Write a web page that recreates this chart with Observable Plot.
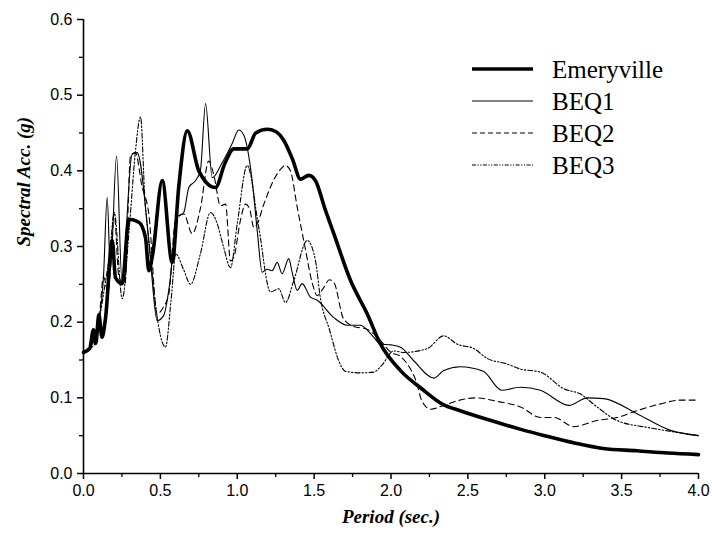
<!DOCTYPE html>
<html>
<head>
<meta charset="utf-8">
<script src="https://cdn.jsdelivr.net/npm/d3@7"></script>
<script src="https://cdn.jsdelivr.net/npm/@observablehq/plot@0.6"></script>
<style>
  html, body { margin: 0; padding: 0; background: white; }
</style>
</head>
<body>
<div id="chart"></div>
<script>
// ---- Data ----
const seriesNames = ["Emeryville", "BEQ1", "BEQ2", "BEQ3"];

const emeryX = [0, 0.04, 0.065, 0.08, 0.1, 0.12, 0.143, 0.187, 0.208, 0.252, 0.295, 0.36, 0.403, 0.425, 0.45, 0.512, 0.577, 0.62, 0.675, 0.75, 0.858, 0.92, 0.978, 1.065, 1.12, 1.195, 1.25, 1.303, 1.36, 1.411, 1.465, 1.509, 1.57, 1.628, 1.737, 1.845, 1.932, 2.062, 2.2, 2.34, 2.45, 2.65, 2.85, 3.0, 3.2, 3.38, 3.6, 3.8, 4.0];
const emeryY = [0.16, 0.165, 0.19, 0.172, 0.21, 0.18, 0.205, 0.308, 0.259, 0.251, 0.336, 0.332, 0.312, 0.268, 0.29, 0.387, 0.279, 0.38, 0.453, 0.40, 0.378, 0.41, 0.429, 0.429, 0.45, 0.455, 0.452, 0.44, 0.415, 0.389, 0.394, 0.387, 0.35, 0.317, 0.255, 0.211, 0.171, 0.136, 0.112, 0.091, 0.083, 0.07, 0.058, 0.05, 0.04, 0.033, 0.03, 0.027, 0.025];

const beq1X = [0, 0.04, 0.07, 0.1, 0.13, 0.154, 0.175, 0.215, 0.25, 0.316, 0.349, 0.414, 0.436, 0.479, 0.522, 0.56, 0.609, 0.652, 0.685, 0.728, 0.76, 0.794, 0.837, 0.9, 0.967, 1.01, 1.043, 1.097, 1.13, 1.162, 1.195, 1.227, 1.26, 1.292, 1.335, 1.357, 1.39, 1.422, 1.476, 1.52, 1.628, 1.715, 1.80, 1.888, 1.93, 2.0, 2.062, 2.148, 2.28, 2.343, 2.45, 2.6, 2.72, 2.842, 2.972, 3.157, 3.276, 3.384, 3.6, 3.818, 4.0];
const beq1Y = [0.16, 0.165, 0.18, 0.2, 0.26, 0.365, 0.268, 0.42, 0.255, 0.422, 0.424, 0.33, 0.281, 0.202, 0.209, 0.25, 0.339, 0.345, 0.378, 0.387, 0.40, 0.489, 0.391, 0.41, 0.436, 0.454, 0.447, 0.387, 0.321, 0.266, 0.27, 0.268, 0.279, 0.264, 0.284, 0.266, 0.242, 0.251, 0.233, 0.229, 0.206, 0.196, 0.196, 0.18, 0.171, 0.17, 0.167, 0.149, 0.126, 0.136, 0.141, 0.135, 0.11, 0.114, 0.11, 0.09, 0.10, 0.099, 0.079, 0.057, 0.05];

const beq2X = [0, 0.04, 0.07, 0.1, 0.13, 0.16, 0.2, 0.23, 0.27, 0.306, 0.338, 0.38, 0.425, 0.479, 0.52, 0.555, 0.598, 0.652, 0.707, 0.76, 0.815, 0.848, 0.891, 0.924, 0.956, 0.978, 1.02, 1.054, 1.08, 1.108, 1.13, 1.173, 1.26, 1.314, 1.346, 1.39, 1.44, 1.49, 1.52, 1.56, 1.6, 1.63, 1.69, 1.75, 1.85, 1.93, 2.0, 2.06, 2.105, 2.17, 2.2, 2.257, 2.343, 2.43, 2.55, 2.7, 2.842, 2.972, 3.06, 3.189, 3.34, 3.47, 3.6, 3.753, 3.88, 4.0];
const beq2Y = [0.16, 0.168, 0.175, 0.2, 0.26, 0.24, 0.343, 0.26, 0.25, 0.42, 0.424, 0.38, 0.343, 0.211, 0.22, 0.237, 0.334, 0.343, 0.317, 0.35, 0.413, 0.394, 0.354, 0.356, 0.281, 0.286, 0.334, 0.356, 0.35, 0.325, 0.33, 0.356, 0.396, 0.407, 0.40, 0.352, 0.30, 0.25, 0.235, 0.245, 0.256, 0.252, 0.205, 0.195, 0.19, 0.176, 0.16, 0.155, 0.145, 0.118, 0.096, 0.085, 0.09, 0.096, 0.1, 0.095, 0.088, 0.074, 0.074, 0.062, 0.07, 0.074, 0.083, 0.092, 0.097, 0.097];

const beq3X = [0, 0.04, 0.07, 0.1, 0.14, 0.17, 0.2, 0.252, 0.3, 0.335, 0.371, 0.4, 0.43, 0.47, 0.533, 0.57, 0.6, 0.65, 0.696, 0.76, 0.826, 0.87, 0.91, 0.956, 1.0, 1.065, 1.14, 1.216, 1.27, 1.314, 1.368, 1.455, 1.51, 1.54, 1.6, 1.66, 1.704, 1.8, 1.888, 1.94, 2.018, 2.083, 2.235, 2.343, 2.43, 2.54, 2.626, 2.75, 2.842, 2.972, 3.124, 3.232, 3.34, 3.47, 3.666, 3.84, 4.0];
const beq3Y = [0.158, 0.165, 0.17, 0.2, 0.25, 0.29, 0.345, 0.231, 0.33, 0.42, 0.471, 0.36, 0.3, 0.22, 0.167, 0.23, 0.29, 0.27, 0.25, 0.29, 0.345, 0.33, 0.30, 0.272, 0.33, 0.407, 0.325, 0.24, 0.244, 0.226, 0.255, 0.308, 0.28, 0.233, 0.19, 0.149, 0.135, 0.133, 0.134, 0.143, 0.162, 0.16, 0.165, 0.182, 0.171, 0.165, 0.152, 0.145, 0.138, 0.134, 0.112, 0.105, 0.088, 0.07, 0.061, 0.055, 0.05];

const xMajorTicks = [0, 0.5, 1.0, 1.5, 2.0, 2.5, 3.0, 3.5, 4.0];
const xMinorTicks = [0.25, 0.75, 1.25, 1.75, 2.25, 2.75, 3.25, 3.75];
const yMajorTicks = [0, 0.1, 0.2, 0.3, 0.4, 0.5, 0.6];
const yMinorTicks = [0.05, 0.15, 0.25, 0.35, 0.45, 0.55];

const xTitle = "Period (sec.)";
const yTitle = "Spectral Acc. (g)";

// ---- Build tables ----
const toRows = (xs, ys, name) => xs.map((x, i) => ({x, y: ys[i], series: name}));
const rows = [
  toRows(emeryX, emeryY, seriesNames[0]),
  toRows(beq1X, beq1Y, seriesNames[1]),
  toRows(beq2X, beq2Y, seriesNames[2]),
  toRows(beq3X, beq3Y, seriesNames[3])
];

const styles = [
  {strokeWidth: 3.6, strokeDasharray: null, legendDash: null},
  {strokeWidth: 1.1, strokeDasharray: null, legendDash: null},
  {strokeWidth: 1.1, strokeDasharray: "6,4", legendDash: "5,3"},
  {strokeWidth: 1.1, strokeDasharray: "5,2,1.5,2,1.5,2", legendDash: "4,1.5,1.2,1.5,1.2,1.5"}
];

const titleFont = "'Liberation Serif', 'Times New Roman', serif";

const chart = Plot.plot({
  width: 712,
  height: 544,
  marginLeft: 83,
  marginRight: 14,
  marginTop: 19,
  marginBottom: 71,
  x: {domain: [0, 4]},
  y: {domain: [0, 0.6]},
  style: {fontFamily: "'Liberation Sans', Arial, sans-serif", fontSize: "16px", color: "black", background: "white"},
  marks: [
    Plot.axisX(xMajorTicks, {tickSize: 6, tickPadding: 5, tickFormat: d3.format(".1f"), label: null, strokeWidth: 1.5}),
    Plot.axisX(xMinorTicks, {tickSize: 4, tickFormat: () => "", label: null, strokeWidth: 1.3}),
    Plot.axisY(yMajorTicks, {tickSize: 6, tickPadding: 5, tickFormat: d3.format(".1f"), label: null, strokeWidth: 1.5}),
    Plot.axisY(yMinorTicks, {tickSize: 4, tickFormat: () => "", label: null, strokeWidth: 1.3}),
    Plot.ruleX([0], {stroke: "black", strokeWidth: 1.6}),
    Plot.ruleY([0], {stroke: "black", strokeWidth: 1.6}),
    ...rows.map((r, i) => Plot.line(r, {
      x: "x", y: "y", stroke: "black",
      strokeWidth: styles[i].strokeWidth,
      strokeDasharray: styles[i].strokeDasharray,
      curve: "monotone-x",
      strokeLinejoin: "round"
    })),
    Plot.text([xTitle], {text: d => d, frameAnchor: "bottom", dy: 49, fontFamily: titleFont, fontStyle: "italic", fontWeight: "bold", fontSize: 19, fill: "black"}),
    Plot.text([yTitle], {text: d => d, frameAnchor: "left", dx: -60, rotate: -90, fontFamily: titleFont, fontStyle: "italic", fontWeight: "bold", fontSize: 19, fill: "black"})
  ]
});

// ---- Legend ----
const svg = d3.select(chart);
const leg = svg.append("g").style("text-anchor", "start");
const legYs = [69, 101, 133, 165];
seriesNames.forEach((name, i) => {
  leg.append("line")
    .attr("x1", 472).attr("x2", 533)
    .attr("y1", legYs[i]).attr("y2", legYs[i])
    .attr("stroke", "black")
    .attr("stroke-width", styles[i].strokeWidth)
    .attr("stroke-dasharray", styles[i].legendDash);
  leg.append("text")
    .attr("x", 552).attr("y", legYs[i])
    .attr("dy", "0.35em")
    .style("text-anchor", "start")
    .style("font-family", titleFont)
    .style("font-size", "25px")
    .style("fill", "black")
    .text(name);
});

document.getElementById("chart").appendChild(chart);
</script>
</body>
</html>
